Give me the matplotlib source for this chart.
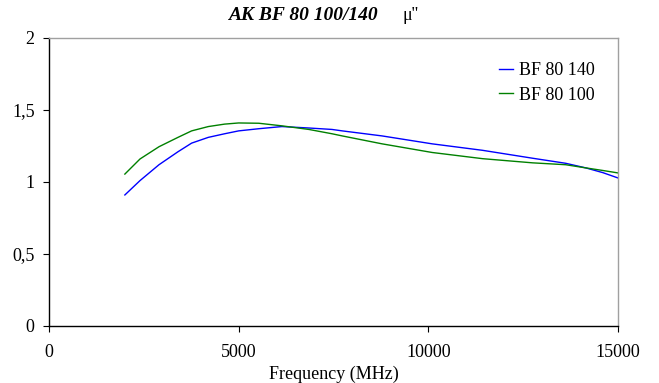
import matplotlib
matplotlib.use("Agg")
import matplotlib.pyplot as plt
from matplotlib.ticker import FuncFormatter

freq_140 = [2000, 2400, 2900, 3400, 3760, 4200, 4630, 5000, 5530, 6140, 6850, 7460, 7730, 8780, 10100, 11430, 12750, 13620, 14150, 14600, 15000]
mu_140 = [0.91, 1.01, 1.12, 1.21, 1.27, 1.31, 1.335, 1.355, 1.37, 1.385, 1.375, 1.365, 1.355, 1.32, 1.265, 1.22, 1.165, 1.13, 1.098, 1.065, 1.028]

freq_100 = [2000, 2400, 2900, 3400, 3760, 4200, 4630, 5000, 5530, 6140, 6850, 7460, 7730, 8780, 10100, 11430, 12750, 13620, 14150, 14600, 15000]
mu_100 = [1.055, 1.16, 1.245, 1.31, 1.355, 1.385, 1.402, 1.41, 1.408, 1.39, 1.365, 1.335, 1.32, 1.265, 1.205, 1.162, 1.133, 1.12, 1.098, 1.08, 1.063]

x_ticks = [0, 5000, 10000, 15000]
y_ticks = [0, 0.5, 1, 1.5, 2]

plt.rcParams['font.family'] = ['Liberation Serif', 'DejaVu Serif']

FS = 13

fig = plt.figure(figsize=(6.59, 3.83), dpi=100)
ax = fig.add_axes([49/659, 1-326/383, (618-49)/659, (326-38)/383])

ax.plot(freq_140, mu_140, color='#0000FF', lw=1.0, label='BF 80 140')
ax.plot(freq_100, mu_100, color='#008000', lw=1.0, label='BF 80 100')

ax.set_xlim(0, 15000)
ax.set_ylim(0, 2)
ax.set_xticks(x_ticks)
ax.set_yticks(y_ticks)
ax.yaxis.set_major_formatter(FuncFormatter(lambda v, p: ('%g' % v).replace('.', ',')))
ax.xaxis.set_major_formatter(FuncFormatter(lambda v, p: '%d' % v))
ax.tick_params(axis='both', direction='out', length=4.3, width=0.8, labelsize=FS, colors='black')
ax.tick_params(axis='x', pad=9)
ax.tick_params(axis='y', pad=6)

for s in ['left', 'bottom']:
    ax.spines[s].set_color('black')
    ax.spines[s].set_linewidth(1.0)
for s in ['top', 'right']:
    ax.spines[s].set_color('#A0A0A0')
    ax.spines[s].set_linewidth(1.0)

ax.set_xlabel('Frequency (MHz)', fontsize=FS, labelpad=3)
fig.text(228/659, 1-16/383, 'AK BF 80 100/140', fontsize=14, fontweight='bold', style='italic', ha='left', va='center')
fig.text(403/659, 1-16/383, "\u03bc''", fontsize=13, ha='left', va='center')

leg = ax.legend(loc='upper left', bbox_to_anchor=((499-49)/569, 0.915), frameon=False, fontsize=FS,
                handlelength=0.8, handletextpad=0.3, labelspacing=0.4, borderpad=0, borderaxespad=0)

fig.savefig('out.png', dpi=100, facecolor='white')
